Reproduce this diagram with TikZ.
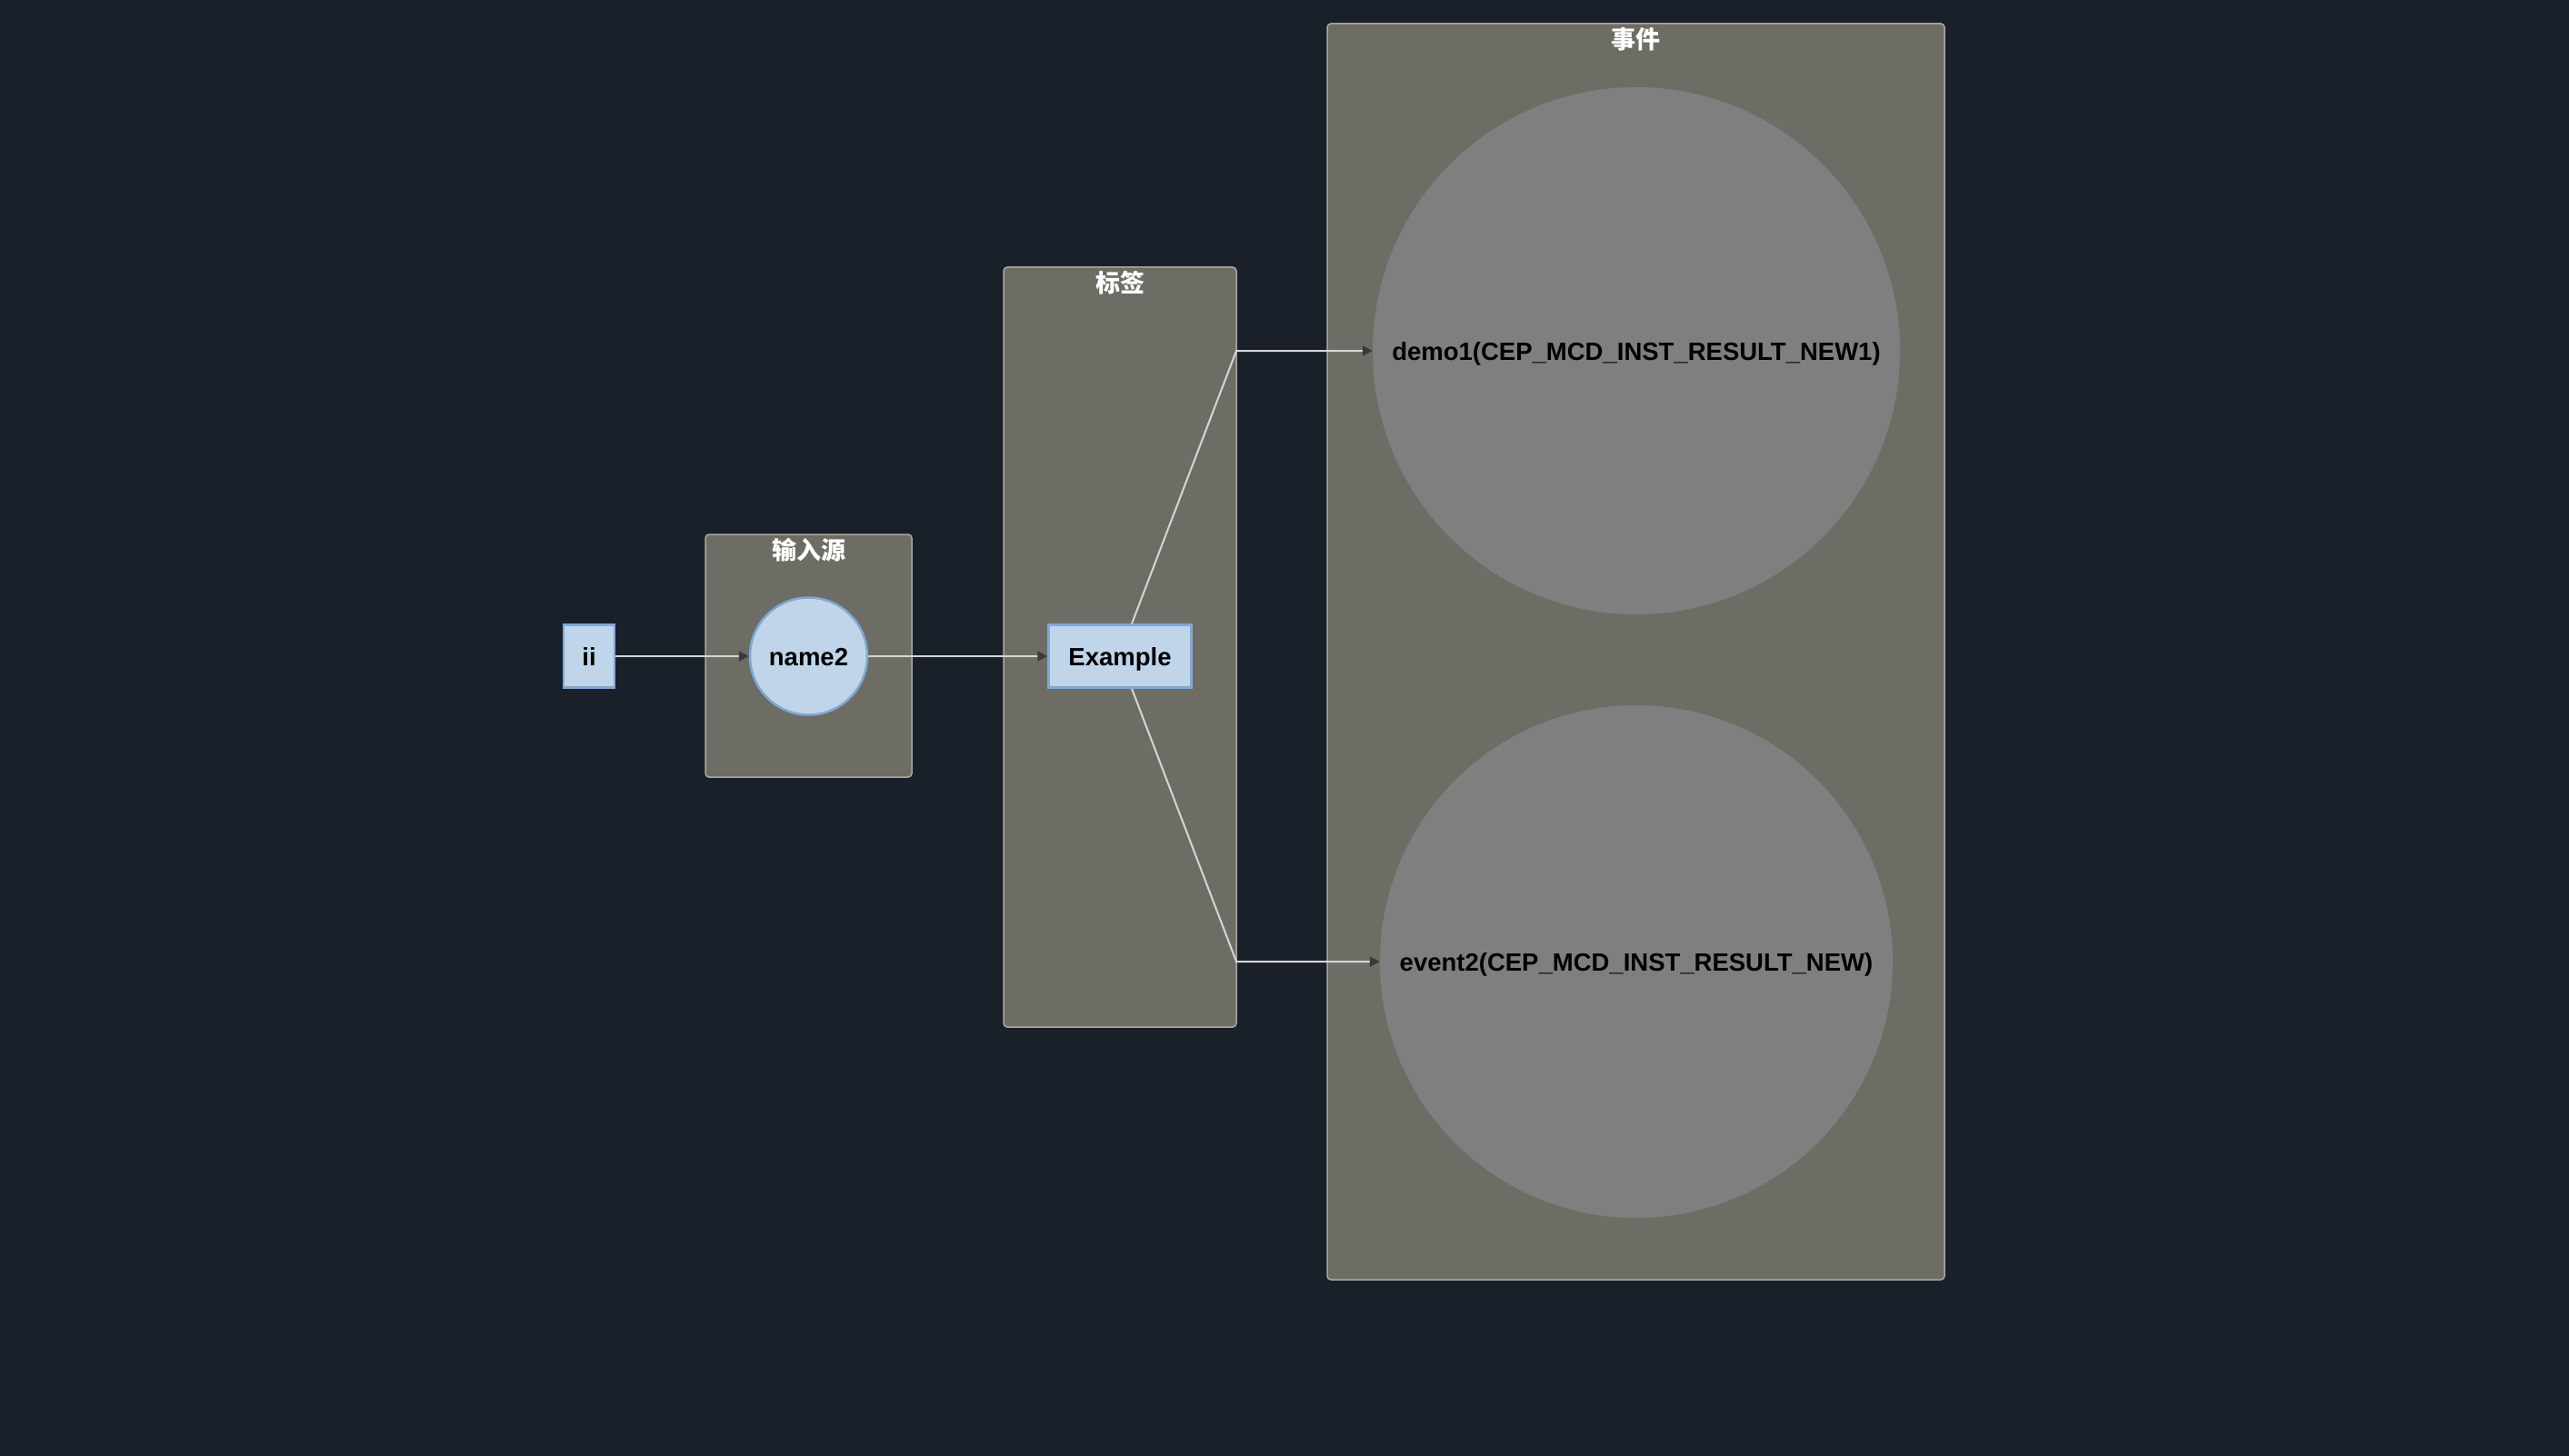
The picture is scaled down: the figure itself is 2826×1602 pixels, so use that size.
\documentclass[tikz,border=0pt]{standalone}
\usepackage{fontspec}
\setmainfont{Liberation Sans}
\newfontfamily\cjk{Noto Sans CJK SC}
\usetikzlibrary{arrows.meta,calc}
\definecolor{bg}{HTML}{19202A}
\definecolor{grpfill}{HTML}{6E6D65}
\definecolor{grpline}{HTML}{A8A8A2}
\definecolor{evfill}{HTML}{7F7F7F}
\definecolor{nodefill}{HTML}{C0D5EA}
\definecolor{nodeline}{HTML}{80A8D5}
\definecolor{edgecol}{HTML}{D6D6D6}
\definecolor{tipcol}{HTML}{3A3A3A}
\begin{document}
\begin{tikzpicture}[x=1pt,y=-1pt,
  grp/.style={draw=grpline, fill=grpfill, line width=1.5pt, rounded corners=4pt, inner sep=0pt},
  grplabel/.style={text=white, font=\cjk\bfseries\fontsize{27}{30}\selectfont, inner sep=0pt},
  box/.style={draw=nodeline, fill=nodefill, line width=2.5pt, inner sep=0pt, text=black,
    text height=20pt, text depth=0pt,
    font=\bfseries\fontsize{27.5}{30}\selectfont},
  evt/.style={circle, fill=evfill, inner sep=0pt, text=black,
    text height=20pt, text depth=0pt,
    font=\bfseries\fontsize{27.5}{30}\selectfont},
  conn/.style={draw=edgecol, line width=2pt, -{Triangle[length=11pt,width=11pt,color=tipcol]}}
]
\useasboundingbox (0,0) rectangle (2826,1602);
\fill[bg] (0,0) rectangle (2826,1602);

% groups
\node[grp, minimum width=227, minimum height=267] (gsrc) at (889.5,721.5) {};
\node[grplabel] (lsrc) at ($(gsrc.north)+(0,18)$) {输入源};
\node[grp, minimum width=256, minimum height=836] (gtag) at (1232,712) {};
\node[grplabel] (ltag) at ($(gtag.north)+(0,18)$) {标签};
\node[grp, minimum width=679, minimum height=1382] (gevt) at (1799.5,717) {};
\node[grplabel] (levt) at ($(gevt.north)+(0,18)$) {事件};

% nodes
\node[box, minimum width=56, minimum height=69] (ii) at (648,722) {ii};
\node[box, circle, minimum size=129] (name2) at (889.5,722) {name2};
\node[box, minimum width=157, minimum height=69] (ex) at (1232,722) {Example};
\node[evt, minimum size=580] (demo1) at (1800,386) {demo1(CEP\_MCD\_INST\_RESULT\_NEW1)};
\node[evt, minimum size=564] (event2) at (1800,1058) {event2(CEP\_MCD\_INST\_RESULT\_NEW)};

% bends
\coordinate (b1) at (1360,386);
\coordinate (b2) at (1360,1058);

% connectors
\draw[conn] (ii) -- (name2);
\draw[conn] (name2) -- (ex);
\draw[conn] ([xshift=13pt]ex.north) -- (b1) -- (demo1);
\draw[conn] ([xshift=13pt]ex.south) -- (b2) -- (event2);
\end{tikzpicture}
\end{document}
